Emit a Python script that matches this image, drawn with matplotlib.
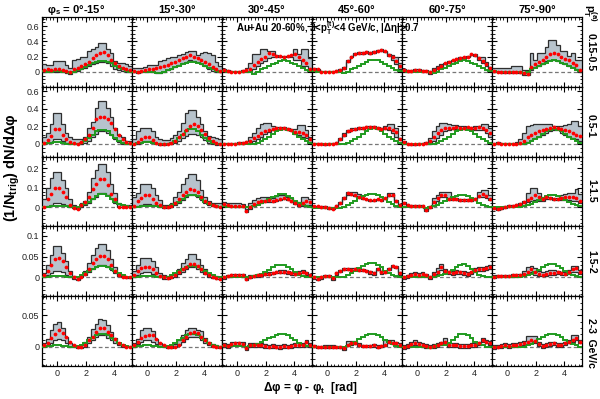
import numpy as np
import matplotlib
matplotlib.use("Agg")
import matplotlib.pyplot as plt
from matplotlib.ticker import MultipleLocator

plt.rcParams['font.family'] = ['Liberation Sans', 'DejaVu Sans']
plt.rcParams['mathtext.fontset'] = 'custom'
plt.rcParams['mathtext.rm'] = 'Liberation Sans'
plt.rcParams['mathtext.bf'] = 'Liberation Sans:bold'
plt.rcParams['mathtext.it'] = 'Liberation Sans:italic'

# ---------------- labels ----------------
col_titles = ['φ$_\\mathbf{s}$ = 0°-15°', '15°-30°', '30°-45°', '45°-60°', '60°-75°', '75°-90°']
row_labels = ['0.15-0.5', '0.5-1', '1-1.5', '1.5-2', '2-3  GeV/c']
ylims = [(-0.2, 0.72), (-0.15, 0.65), (-0.1, 0.26), (-0.045, 0.123), (-0.031, 0.081)]
yticks = [[0, 0.2, 0.4, 0.6], [0, 0.2, 0.4, 0.6], [0, 0.1, 0.2], [0, 0.05, 0.1], [0, 0.05]]
yminor = [0.05, 0.05, 0.02, 0.01, 0.01]
xticks = [0, 2, 4]

# ---------------- data: row 1 (0.15-0.5 GeV/c) ----------------
r1_red = [
 [0.02,0.03,0.02,0.04,0.03,0.02,0.01,0.00,0.03,0.05,0.07,0.10,0.13,0.18,0.22,0.25,0.26,0.22,0.15,0.11,0.08,0.05,0.03,0.02],
 [0.01,0.00,0.01,0.02,0.03,0.03,0.05,0.06,0.07,0.09,0.11,0.13,0.16,0.18,0.20,0.22,0.20,0.18,0.16,0.13,0.10,0.06,0.03,0.01],
 [0.02,0.01,0.00,0.00,0.00,0.01,0.02,0.04,0.09,0.13,0.17,0.20,0.25,0.23,0.21,0.21,0.20,0.21,0.22,0.23,0.20,0.16,0.12,0.04],
 [0.04,0.03,0.00,0.00,0.00,0.00,0.01,0.02,0.05,0.14,0.20,0.24,0.25,0.25,0.26,0.25,0.26,0.28,0.29,0.27,0.22,0.20,0.14,0.08],
 [0.02,0.01,0.01,0.02,0.02,0.01,0.01,0.00,0.02,0.05,0.08,0.11,0.13,0.15,0.17,0.18,0.19,0.20,0.23,0.22,0.18,0.14,0.10,0.05],
 [0.01,0.00,0.00,0.00,0.00,0.00,0.00,-0.01,-0.02,-0.03,0.06,0.10,0.13,0.15,0.20,0.24,0.25,0.23,0.20,0.17,0.15,0.12,0.09,0.02]]
r1_up = [
 [0.10,0.09,0.09,0.14,0.14,0.14,0.09,0.05,0.15,0.17,0.19,0.20,0.28,0.30,0.33,0.38,0.38,0.30,0.25,0.14,0.12,0.11,0.10,0.08],
 [0.05,0.05,0.05,0.06,0.09,0.09,0.09,0.14,0.16,0.18,0.20,0.20,0.22,0.24,0.26,0.28,0.27,0.22,0.25,0.26,0.25,0.22,0.13,0.08],
 [0.03,0.02,0.01,0.01,0.01,0.02,0.05,0.12,0.23,0.23,0.30,0.30,0.28,0.28,0.22,0.21,0.21,0.21,0.22,0.30,0.23,0.30,0.30,0.18],
 [0.05,0.04,0.01,0.01,0.01,0.01,0.02,0.03,0.06,0.15,0.21,0.25,0.26,0.26,0.27,0.26,0.27,0.29,0.30,0.28,0.23,0.22,0.20,0.12],
 [0.03,0.02,0.02,0.03,0.03,0.02,0.02,0.01,0.05,0.08,0.10,0.12,0.14,0.16,0.18,0.19,0.20,0.21,0.24,0.23,0.19,0.19,0.13,0.06],
 [0.05,0.05,0.05,0.05,0.05,0.07,0.07,0.07,0.02,0.02,0.25,0.16,0.25,0.25,0.33,0.42,0.42,0.35,0.28,0.28,0.21,0.25,0.16,0.16]]
r1_lo = [
 [0.00,0.00,-0.01,0.00,0.00,-0.01,-0.02,-0.03,0.00,0.01,0.03,0.05,0.07,0.10,0.11,0.13,0.13,0.12,0.07,0.04,0.02,0.01,0.00,0.00],
 [-0.01,-0.02,-0.01,0.00,0.00,0.00,-0.02,-0.02,0.00,0.02,0.04,0.06,0.09,0.11,0.13,0.15,0.14,0.13,0.10,0.07,0.04,0.01,-0.01,-0.01],
 [0.01,0.00,-0.01,-0.01,-0.01,0.00,0.00,0.01,0.03,0.07,0.12,0.14,0.18,0.20,0.20,0.20,0.19,0.20,0.20,0.16,0.15,0.08,0.08,0.02],
 [0.03,0.02,-0.01,-0.01,-0.01,-0.01,0.00,0.01,0.04,0.13,0.19,0.23,0.24,0.24,0.25,0.24,0.25,0.27,0.28,0.26,0.21,0.15,0.10,0.04],
 [0.01,0.00,0.00,0.01,0.01,0.00,0.00,-0.03,0.01,0.03,0.06,0.10,0.12,0.14,0.16,0.17,0.18,0.19,0.22,0.21,0.16,0.12,0.08,0.04],
 [-0.01,-0.01,-0.02,-0.02,-0.02,-0.02,-0.02,-0.02,-0.04,-0.04,0.02,0.06,0.08,0.10,0.14,0.16,0.15,0.14,0.12,0.10,0.08,0.06,0.04,0.00]]
r1_bg = [
 [0.01,0.00,0.00,0.01,0.01,0.00,-0.01,-0.02,0.00,0.02,0.04,0.06,0.09,0.11,0.13,0.14,0.14,0.13,0.11,0.08,0.05,0.03,0.01,0.00],
 [0.00,0.00,0.00,0.00,0.00,0.00,-0.02,-0.02,0.00,0.02,0.04,0.06,0.08,0.10,0.12,0.13,0.13,0.12,0.10,0.08,0.05,0.03,0.01,0.00],
 [0.01,0.00,0.00,0.00,0.00,0.00,0.00,-0.01,-0.03,0.00,0.03,0.05,0.08,0.10,0.12,0.14,0.15,0.14,0.12,0.10,0.07,0.05,0.02,0.01],
 [0.01,0.00,0.00,0.00,0.00,0.00,0.00,-0.01,-0.02,0.00,0.03,0.05,0.08,0.10,0.13,0.15,0.16,0.15,0.13,0.10,0.07,0.05,0.02,0.01],
 [0.01,0.00,0.00,0.00,0.00,0.00,0.00,-0.01,-0.02,0.00,0.03,0.05,0.08,0.10,0.12,0.14,0.15,0.14,0.12,0.10,0.07,0.05,0.02,0.01],
 [0.01,0.00,0.00,0.00,0.00,0.00,0.00,-0.01,-0.02,0.00,0.03,0.05,0.08,0.10,0.12,0.14,0.15,0.14,0.12,0.10,0.07,0.05,0.02,0.01]]

# ---------------- data: row 2 (0.5-1 GeV/c) ----------------
r2_red = [
 [0.01,0.04,0.09,0.17,0.17,0.10,0.05,0.02,0.01,0.00,0.02,0.05,0.10,0.18,0.28,0.30,0.30,0.28,0.24,0.17,0.10,0.05,0.02,0.01],
 [0.00,0.02,0.05,0.07,0.07,0.04,0.01,-0.01,-0.01,0.00,0.01,0.03,0.07,0.11,0.16,0.20,0.22,0.20,0.16,0.11,0.06,0.03,0.01,0.00],
 [0.00,0.00,0.00,0.00,0.01,0.01,0.02,0.03,0.06,0.09,0.12,0.14,0.16,0.17,0.18,0.18,0.18,0.17,0.15,0.13,0.13,0.12,0.10,0.05],
 [0.00,0.00,0.00,-0.01,0.00,0.00,0.01,0.05,0.10,0.14,0.16,0.17,0.18,0.18,0.19,0.19,0.19,0.18,0.17,0.18,0.18,0.16,0.13,0.05],
 [0.02,0.00,-0.01,-0.01,0.00,0.00,0.01,0.03,0.07,0.12,0.16,0.18,0.18,0.18,0.19,0.18,0.18,0.19,0.18,0.18,0.19,0.18,0.16,0.12],
 [0.00,0.01,0.00,0.00,0.00,0.00,0.00,0.01,0.03,0.08,0.10,0.12,0.14,0.16,0.17,0.18,0.19,0.18,0.17,0.15,0.14,0.12,0.10,0.09]]
r2_up = [
 [0.08,0.12,0.22,0.35,0.35,0.22,0.12,0.07,0.05,0.05,0.05,0.08,0.18,0.25,0.41,0.49,0.49,0.41,0.30,0.18,0.10,0.07,0.03,0.03],
 [0.05,0.14,0.18,0.18,0.18,0.14,0.08,0.05,0.04,0.04,0.06,0.10,0.14,0.24,0.35,0.39,0.39,0.30,0.22,0.14,0.09,0.07,0.06,0.05],
 [0.01,0.01,0.01,0.01,0.02,0.02,0.03,0.07,0.12,0.18,0.22,0.24,0.24,0.20,0.19,0.19,0.19,0.18,0.17,0.17,0.21,0.21,0.15,0.07],
 [0.01,0.01,0.01,0.00,0.01,0.01,0.02,0.06,0.12,0.16,0.18,0.18,0.19,0.19,0.20,0.20,0.20,0.19,0.18,0.20,0.22,0.22,0.18,0.06],
 [0.03,0.01,0.00,0.00,0.01,0.01,0.02,0.06,0.14,0.20,0.24,0.24,0.23,0.21,0.21,0.20,0.20,0.19,0.19,0.20,0.20,0.22,0.22,0.18],
 [0.01,0.02,0.01,0.01,0.01,0.01,0.02,0.05,0.12,0.20,0.21,0.22,0.22,0.22,0.22,0.22,0.20,0.20,0.20,0.21,0.22,0.26,0.26,0.20]]
r2_lo = [
 [0.00,0.01,0.02,0.05,0.05,0.03,0.01,0.00,-0.01,-0.01,0.00,0.01,0.03,0.07,0.11,0.14,0.14,0.12,0.10,0.05,0.02,0.00,-0.01,-0.01],
 [-0.01,0.00,0.02,0.03,0.03,0.01,-0.01,-0.02,-0.02,-0.01,0.00,0.01,0.03,0.06,0.09,0.11,0.11,0.10,0.07,0.04,0.01,-0.01,-0.02,-0.01],
 [-0.01,-0.01,-0.01,-0.01,0.00,0.00,0.01,0.01,0.03,0.05,0.08,0.11,0.13,0.15,0.16,0.17,0.17,0.16,0.14,0.11,0.10,0.08,0.06,0.02],
 [-0.01,-0.01,-0.01,-0.02,-0.01,-0.01,0.00,0.04,0.09,0.13,0.15,0.16,0.17,0.17,0.18,0.18,0.18,0.17,0.16,0.17,0.16,0.12,0.08,0.04],
 [0.01,-0.01,-0.02,-0.02,-0.01,-0.01,0.00,0.00,0.03,0.06,0.10,0.14,0.16,0.17,0.17,0.17,0.17,0.17,0.17,0.16,0.16,0.15,0.12,0.08],
 [-0.01,0.00,-0.01,-0.01,-0.01,-0.01,-0.01,-0.01,0.00,0.02,0.04,0.06,0.08,0.10,0.12,0.14,0.16,0.15,0.12,0.10,0.08,0.06,0.05,0.03]]
r2_bg = [
 [0.00,0.01,0.01,0.02,0.02,0.01,0.00,-0.01,-0.01,0.00,0.01,0.03,0.06,0.10,0.14,0.16,0.16,0.14,0.10,0.06,0.03,0.01,0.00,0.00],
 [0.00,0.01,0.01,0.02,0.02,0.01,0.00,-0.01,-0.01,0.00,0.01,0.03,0.06,0.10,0.14,0.17,0.17,0.14,0.10,0.06,0.03,0.01,0.00,0.00],
 [0.00,0.00,0.00,-0.01,-0.01,-0.01,-0.01,-0.01,0.00,0.01,0.03,0.05,0.08,0.11,0.14,0.16,0.17,0.16,0.14,0.11,0.08,0.05,0.03,0.01],
 [-0.01,-0.01,-0.01,-0.01,-0.01,-0.01,-0.01,-0.01,0.00,0.01,0.03,0.05,0.08,0.11,0.14,0.17,0.18,0.17,0.14,0.11,0.08,0.05,0.03,0.01],
 [0.00,0.00,0.00,0.00,0.00,0.00,0.00,-0.01,0.00,0.01,0.03,0.05,0.08,0.11,0.14,0.16,0.17,0.16,0.14,0.11,0.08,0.05,0.03,0.01],
 [0.00,0.00,0.00,0.00,0.00,0.00,0.00,0.00,0.00,0.01,0.03,0.05,0.08,0.11,0.14,0.16,0.17,0.16,0.14,0.11,0.08,0.05,0.03,0.01]]

# ---------------- data: row 3 (1-1.5 GeV/c) ----------------
r3_red = [
 [0.00,0.04,0.065,0.10,0.10,0.08,0.05,0.01,-0.005,-0.008,0.012,0.025,0.05,0.095,0.12,0.145,0.145,0.115,0.065,0.04,0.00,0.00,0.00,0.00],
 [0.005,0.03,0.045,0.06,0.06,0.04,0.02,0.01,0.00,0.00,0.005,0.02,0.04,0.06,0.08,0.095,0.09,0.075,0.05,0.03,0.02,0.01,0.005,0.00],
 [0.015,0.01,0.005,0.003,0.003,0.005,-0.018,0.00,0.015,0.025,0.03,0.033,0.035,0.03,0.035,0.04,0.045,0.04,0.03,0.02,0.012,0.02,0.03,0.025],
 [0.003,0.003,0.00,0.00,-0.005,-0.008,0.005,0.02,0.045,0.07,0.065,0.062,0.05,0.045,0.04,0.035,0.035,0.04,0.037,0.045,0.062,0.062,0.03,0.012],
 [0.02,0.01,0.005,0.003,0.003,0.003,-0.017,0.00,0.025,0.045,0.062,0.062,0.04,0.04,0.04,0.037,0.037,0.035,0.035,0.04,0.055,0.065,0.055,0.04],
 [-0.005,-0.01,-0.005,0.00,0.003,0.005,0.01,0.015,0.025,0.035,0.045,0.062,0.05,0.04,0.05,0.045,0.042,0.04,0.045,0.052,0.05,0.052,0.045,0.03]]
r3_up = [
 [0.04,0.10,0.15,0.18,0.18,0.14,0.10,0.04,0.01,0.00,0.02,0.03,0.08,0.15,0.19,0.22,0.22,0.18,0.12,0.07,0.02,0.01,0.01,0.01],
 [0.05,0.07,0.12,0.12,0.12,0.10,0.06,0.035,0.01,0.01,0.02,0.05,0.08,0.12,0.15,0.17,0.17,0.14,0.09,0.05,0.03,0.02,0.02,0.02],
 [0.025,0.023,0.023,0.023,0.02,0.015,-0.01,0.02,0.037,0.045,0.05,0.05,0.05,0.045,0.055,0.062,0.062,0.05,0.045,0.03,0.025,0.053,0.053,0.04],
 [0.006,0.006,0.003,0.003,-0.002,-0.005,0.008,0.024,0.05,0.078,0.078,0.078,0.066,0.048,0.043,0.038,0.038,0.043,0.04,0.048,0.07,0.07,0.035,0.016],
 [0.025,0.015,0.01,0.008,0.008,0.008,-0.012,0.005,0.045,0.06,0.078,0.078,0.078,0.045,0.045,0.042,0.042,0.04,0.04,0.045,0.075,0.087,0.087,0.06],
 [0.00,-0.005,0.00,0.005,0.008,0.01,0.015,0.02,0.03,0.07,0.10,0.10,0.07,0.05,0.055,0.05,0.047,0.045,0.06,0.065,0.07,0.07,0.095,0.065]]
r3_lo = [
 [0.00,0.005,0.01,0.02,0.02,0.015,0.005,0.00,-0.005,-0.01,0.00,0.01,0.02,0.04,0.05,0.07,0.07,0.06,0.04,0.02,0.00,0.00,0.00,0.00],
 [0.00,0.005,0.01,0.015,0.015,0.01,0.003,0.00,-0.003,-0.003,0.00,0.01,0.02,0.035,0.05,0.06,0.06,0.05,0.035,0.02,0.01,0.003,0.00,0.00],
 [0.01,0.005,0.00,0.00,0.00,0.00,-0.025,-0.01,0.005,0.015,0.02,0.025,0.025,0.025,0.03,0.035,0.04,0.035,0.025,0.015,0.005,0.005,0.01,0.01],
 [0.00,0.00,-0.003,-0.003,-0.008,-0.011,0.002,0.016,0.04,0.062,0.06,0.057,0.046,0.041,0.036,0.031,0.031,0.036,0.033,0.041,0.056,0.056,0.025,0.008],
 [0.015,0.005,0.00,-0.002,-0.002,-0.002,-0.022,-0.005,0.02,0.03,0.05,0.05,0.035,0.035,0.035,0.032,0.032,0.03,0.03,0.035,0.05,0.05,0.045,0.035],
 [-0.01,-0.015,-0.01,-0.005,-0.002,0.00,0.005,0.01,0.02,0.025,0.03,0.035,0.03,0.03,0.04,0.04,0.037,0.035,0.035,0.035,0.035,0.03,0.03,0.02]]
r3_bg = [
 [0.00,0.002,0.005,0.007,0.007,0.005,0.003,0.00,0.00,0.002,0.008,0.015,0.025,0.04,0.055,0.065,0.065,0.055,0.04,0.025,0.015,0.008,0.003,0.00],
 [0.00,0.002,0.005,0.007,0.007,0.005,0.003,0.00,0.00,0.002,0.008,0.015,0.025,0.04,0.055,0.062,0.062,0.055,0.04,0.025,0.015,0.008,0.003,0.00],
 [0.003,0.002,0.00,0.00,0.00,0.00,-0.002,0.00,0.005,0.012,0.02,0.03,0.04,0.05,0.058,0.065,0.065,0.058,0.045,0.03,0.02,0.012,0.005,0.002],
 [-0.005,-0.005,-0.005,-0.005,-0.005,-0.005,-0.005,-0.005,0.00,0.01,0.02,0.03,0.045,0.055,0.06,0.065,0.065,0.06,0.05,0.04,0.025,0.015,0.005,0.00],
 [0.00,0.00,0.00,0.00,0.00,0.00,-0.003,0.00,0.005,0.01,0.02,0.03,0.04,0.05,0.058,0.064,0.064,0.058,0.048,0.035,0.022,0.012,0.005,0.002],
 [0.00,0.00,0.00,0.00,0.00,0.00,0.00,0.00,0.003,0.008,0.015,0.025,0.035,0.045,0.055,0.062,0.062,0.055,0.045,0.035,0.025,0.015,0.008,0.003]]

# ---------------- data: row 4 (1.5-2 GeV/c) ----------------
r4_red = [
 [0.005,0.015,0.03,0.045,0.048,0.04,0.025,0.01,0.00,-0.003,0.002,0.008,0.02,0.035,0.045,0.052,0.052,0.045,0.03,0.015,0.005,0.00,0.00,0.00],
 [0.005,0.015,0.022,0.025,0.025,0.02,0.01,0.003,0.00,-0.002,0.00,0.005,0.012,0.02,0.026,0.032,0.032,0.028,0.02,0.01,0.005,0.00,-0.002,-0.003],
 [0.00,0.003,0.005,0.006,0.006,0.005,-0.003,0.002,0.004,0.005,0.006,0.008,0.009,0.011,0.013,0.014,0.014,0.012,0.01,0.008,0.011,0.013,0.01,0.006],
 [0.00,-0.003,0.00,0.003,0.004,-0.002,0.01,0.015,0.02,0.02,0.019,0.02,0.019,0.018,0.015,0.012,0.01,0.02,0.012,0.013,0.02,0.027,0.025,0.01],
 [0.00,0.003,0.007,0.008,0.006,0.008,0.005,0.00,0.008,0.012,0.024,0.016,0.012,0.011,0.013,0.012,0.011,0.008,0.012,0.018,0.02,0.02,0.022,0.024],
 [0.002,0.004,0.004,0.003,0.003,0.005,0.005,0.006,0.008,0.014,0.02,0.012,0.008,0.006,0.008,0.01,0.011,0.012,0.01,0.008,0.012,0.02,0.022,0.013]]
r4_up = [
 [0.01,0.03,0.055,0.076,0.076,0.06,0.04,0.015,0.003,0.00,0.005,0.015,0.035,0.055,0.07,0.08,0.08,0.065,0.045,0.025,0.01,0.003,0.002,0.002],
 [0.015,0.03,0.048,0.048,0.048,0.04,0.025,0.01,0.005,0.003,0.005,0.01,0.02,0.035,0.045,0.056,0.056,0.045,0.03,0.02,0.01,0.005,0.003,0.002],
 [0.003,0.006,0.008,0.009,0.009,0.008,0.00,0.005,0.007,0.008,0.009,0.011,0.012,0.014,0.016,0.017,0.017,0.015,0.013,0.011,0.016,0.017,0.014,0.009],
 [0.003,0.00,0.003,0.006,0.007,0.001,0.013,0.018,0.023,0.023,0.022,0.023,0.022,0.021,0.018,0.015,0.013,0.023,0.015,0.016,0.023,0.03,0.028,0.013],
 [0.004,0.007,0.011,0.012,0.01,0.012,0.009,0.004,0.012,0.022,0.032,0.02,0.016,0.015,0.017,0.016,0.015,0.012,0.016,0.022,0.024,0.024,0.027,0.03],
 [0.005,0.007,0.007,0.006,0.006,0.008,0.008,0.009,0.015,0.024,0.028,0.022,0.015,0.013,0.015,0.017,0.017,0.016,0.014,0.012,0.018,0.027,0.028,0.018]]
r4_lo = [
 [0.00,0.005,0.01,0.015,0.015,0.012,0.005,0.00,-0.003,-0.005,0.00,0.005,0.012,0.02,0.025,0.03,0.03,0.025,0.018,0.01,0.003,0.00,-0.002,-0.002],
 [0.00,0.005,0.01,0.012,0.012,0.008,0.003,0.00,-0.003,-0.004,-0.002,0.002,0.008,0.014,0.02,0.024,0.024,0.02,0.014,0.008,0.002,-0.002,-0.004,-0.004],
 [-0.003,0.00,0.002,0.003,0.003,0.002,-0.006,-0.001,0.001,0.002,0.003,0.005,0.006,0.008,0.01,0.011,0.011,0.009,0.007,0.005,0.008,0.01,0.007,0.003],
 [-0.003,-0.006,-0.003,0.00,0.001,-0.005,0.007,0.012,0.017,0.017,0.016,0.017,0.016,0.015,0.012,0.009,0.007,0.017,0.009,0.01,0.017,0.024,0.022,0.007],
 [-0.004,-0.001,0.003,0.004,0.002,0.004,0.001,-0.004,0.004,0.008,0.018,0.012,0.008,0.007,0.009,0.008,0.007,0.004,0.008,0.014,0.016,0.016,0.018,0.02],
 [-0.001,0.001,0.001,0.00,0.00,0.002,0.002,0.003,0.004,0.008,0.012,0.006,0.004,0.003,0.004,0.006,0.007,0.008,0.006,0.005,0.008,0.012,0.014,0.008]]
r4_bg = [
 [0.00,0.002,0.003,0.004,0.004,0.003,0.002,0.00,0.00,0.002,0.005,0.01,0.015,0.02,0.025,0.028,0.028,0.025,0.02,0.015,0.01,0.005,0.002,0.00],
 [0.00,0.002,0.003,0.004,0.004,0.003,0.002,0.00,0.00,0.002,0.005,0.01,0.015,0.02,0.025,0.028,0.028,0.025,0.02,0.015,0.01,0.005,0.002,0.00],
 [0.002,0.002,0.002,0.002,0.002,0.002,0.00,0.002,0.003,0.005,0.008,0.012,0.018,0.024,0.03,0.03,0.03,0.026,0.02,0.012,0.006,0.003,0.002,0.002],
 [0.002,0.002,0.002,0.002,0.002,0.002,0.00,0.00,0.002,0.005,0.01,0.016,0.022,0.028,0.032,0.035,0.034,0.03,0.024,0.016,0.01,0.005,0.003,0.002],
 [0.002,0.002,0.002,0.002,0.002,0.002,0.00,0.00,0.002,0.004,0.006,0.008,0.012,0.018,0.025,0.03,0.032,0.028,0.02,0.012,0.006,0.003,0.002,0.002],
 [0.002,0.002,0.002,0.002,0.002,0.002,0.002,0.002,0.003,0.005,0.008,0.012,0.018,0.024,0.029,0.032,0.032,0.028,0.022,0.015,0.009,0.005,0.003,0.002]]

# ---------------- data: row 5 (2-3 GeV/c) ----------------
r5_red = [
 [0.003,0.006,0.014,0.02,0.026,0.022,0.015,0.008,0.003,0.00,-0.001,0.003,0.01,0.016,0.024,0.03,0.03,0.024,0.018,0.012,0.006,0.002,0.00,0.00],
 [0.002,0.008,0.013,0.017,0.019,0.018,0.012,0.006,0.003,0.00,-0.001,0.00,0.003,0.01,0.016,0.022,0.024,0.022,0.016,0.01,0.005,0.001,0.00,-0.001],
 [0.002,0.001,0.004,0.005,0.005,0.004,-0.003,0.002,0.003,0.003,0.002,0.001,0.00,0.001,0.00,-0.001,0.001,0.00,0.001,0.002,0.003,0.002,0.008,0.003],
 [0.001,-0.001,-0.001,0.00,0.00,0.00,-0.001,-0.001,-0.003,0.003,0.005,0.006,0.003,0.001,0.001,0.001,0.002,0.00,0.001,0.003,0.008,0.006,0.005,0.003],
 [-0.001,0.001,0.004,0.006,0.004,0.002,0.001,0.00,0.001,0.003,0.005,0.008,0.002,0.003,0.002,0.001,0.001,0.001,0.002,0.003,0.005,0.01,0.008,0.006],
 [-0.001,0.00,0.001,0.002,0.001,0.002,0.003,0.004,0.005,0.007,0.011,0.009,0.004,0.001,0.002,0.004,0.005,0.002,0.003,0.005,0.008,0.011,0.014,0.008]]
r5_up = [
 [0.005,0.012,0.027,0.037,0.039,0.03,0.016,0.006,0.002,0.001,0.002,0.008,0.016,0.028,0.036,0.045,0.042,0.035,0.024,0.014,0.006,0.003,0.001,0.001],
 [0.006,0.012,0.027,0.03,0.03,0.025,0.012,0.006,0.003,0.001,0.001,0.004,0.01,0.019,0.027,0.03,0.03,0.027,0.025,0.014,0.008,0.004,0.002,0.001],
 [0.005,0.004,0.008,0.008,0.008,0.008,0.00,0.005,0.006,0.006,0.005,0.004,0.003,0.004,0.003,0.002,0.004,0.003,0.004,0.005,0.006,0.005,0.011,0.006],
 [0.003,0.001,0.001,0.002,0.002,0.002,0.001,0.001,-0.001,0.009,0.009,0.009,0.005,0.003,0.003,0.003,0.004,0.002,0.003,0.01,0.01,0.01,0.007,0.005],
 [0.002,0.004,0.007,0.01,0.007,0.005,0.004,0.003,0.004,0.006,0.008,0.013,0.005,0.006,0.005,0.004,0.004,0.004,0.005,0.006,0.008,0.013,0.011,0.009],
 [0.002,0.003,0.004,0.005,0.004,0.005,0.006,0.007,0.009,0.017,0.017,0.017,0.007,0.004,0.005,0.007,0.008,0.005,0.006,0.008,0.011,0.018,0.018,0.011]]
r5_lo = [
 [0.001,0.003,0.006,0.01,0.012,0.01,0.005,0.00,-0.001,-0.002,-0.002,0.00,0.005,0.01,0.015,0.018,0.018,0.014,0.01,0.006,0.002,0.00,-0.001,-0.001],
 [0.00,0.004,0.008,0.01,0.01,0.008,0.004,0.001,-0.001,-0.002,-0.002,-0.001,0.002,0.008,0.012,0.016,0.016,0.015,0.01,0.006,0.002,0.00,-0.001,-0.002],
 [-0.001,-0.002,0.001,0.002,0.002,0.001,-0.006,-0.001,0.00,0.00,-0.001,-0.002,-0.003,-0.002,-0.003,-0.004,-0.002,-0.003,-0.002,-0.001,0.00,-0.001,0.005,0.00],
 [-0.001,-0.003,-0.003,-0.002,-0.002,-0.002,-0.003,-0.003,-0.005,0.001,0.003,0.004,0.001,-0.001,-0.001,-0.001,0.00,-0.002,-0.001,0.001,0.006,0.004,0.003,0.001],
 [-0.004,-0.002,0.001,0.003,0.001,-0.001,-0.002,-0.003,-0.002,0.00,0.002,0.005,-0.001,0.00,-0.001,-0.002,-0.002,-0.002,-0.001,0.00,0.002,0.007,0.005,0.003],
 [-0.004,-0.003,-0.002,-0.001,-0.002,-0.001,0.00,0.001,0.002,0.004,0.006,0.006,0.001,-0.002,-0.001,0.001,0.002,-0.001,0.00,0.002,0.005,0.008,0.011,0.005]]
r5_bg = [
 [0.00,0.001,0.001,0.002,0.002,0.001,0.001,0.00,0.00,0.001,0.003,0.006,0.01,0.014,0.018,0.02,0.02,0.018,0.014,0.01,0.006,0.003,0.001,0.00],
 [0.00,0.001,0.001,0.002,0.002,0.001,0.001,0.00,0.00,0.001,0.003,0.006,0.01,0.014,0.018,0.02,0.02,0.018,0.014,0.01,0.006,0.003,0.001,0.00],
 [0.001,0.001,0.001,0.001,0.001,0.001,0.00,0.001,0.002,0.004,0.007,0.01,0.013,0.016,0.019,0.02,0.02,0.018,0.014,0.01,0.006,0.003,0.001,0.001],
 [0.00,0.00,0.00,0.00,0.00,0.00,0.00,0.00,0.00,0.001,0.004,0.008,0.012,0.015,0.019,0.021,0.021,0.019,0.015,0.011,0.007,0.004,0.001,0.00],
 [0.00,0.00,0.00,0.00,0.00,0.00,0.00,-0.003,0.00,0.002,0.003,0.003,0.006,0.01,0.016,0.021,0.021,0.018,0.013,0.008,0.004,0.002,0.00,0.00],
 [0.00,0.00,0.00,0.00,0.00,0.00,0.00,0.00,0.00,0.002,0.004,0.008,0.012,0.015,0.019,0.021,0.021,0.019,0.015,0.011,0.007,0.004,0.002,0.00]]

reds = [r1_red, r2_red, r3_red, r4_red, r5_red]
ups = [r1_up, r2_up, r3_up, r4_up, r5_up]
los = [r1_lo, r2_lo, r3_lo, r4_lo, r5_lo]
bgs = [r1_bg, r2_bg, r3_bg, r4_bg, r5_bg]

edges = np.linspace(-np.pi / 3, 5 * np.pi / 3, 25)
centers = 0.5 * (edges[:-1] + edges[1:])

fig = plt.figure(figsize=(6.0, 3.99), dpi=100)
gs = fig.add_gridspec(5, 6, left=0.07, right=0.97, top=0.957, bottom=0.083,
                      hspace=0, wspace=0)

band_color = '#b7c3cc'
edge_color = '#2e2e2e'
green = '#1f9a1f'

for r in range(5):
    for c in range(6):
        ax = fig.add_subplot(gs[r, c])
        up = np.array(ups[r][c])
        lo = np.array(los[r][c])
        ax.axhline(0, color='#777777', lw=0.9, ls=(0, (3, 2)), zorder=1)
        ax.stairs(up, edges, baseline=lo, fill=True, color=band_color, lw=0, zorder=2)
        ax.stairs(up, edges, baseline=None, color=edge_color, lw=0.9, zorder=3)
        ax.stairs(lo, edges, baseline=None, color=edge_color, lw=0.9, zorder=3)
        ax.stairs(bgs[r][c], edges, baseline=None, color=green, lw=1.4, zorder=4)
        ax.plot(centers, reds[r][c], 'o', color='red', ms=2.7, mew=0, zorder=5)
        ax.set_xlim(edges[0], edges[-1])
        ax.set_ylim(*ylims[r])
        ax.set_xticks(xticks)
        ax.xaxis.set_minor_locator(MultipleLocator(0.25))
        ax.set_yticks(yticks[r])
        ax.yaxis.set_minor_locator(MultipleLocator(yminor[r]))
        ax.tick_params(which='both', direction='in', top=True, right=True,
                       labelsize=6.5, labelcolor='#222222', pad=2)
        ax.tick_params(which='major', length=3.5, width=0.8)
        ax.tick_params(which='minor', length=1.8, width=0.6)
        for s in ax.spines.values():
            s.set_linewidth(0.9)
        if c == 0:
            ax.set_yticklabels([f'{v:g}' for v in yticks[r]])
        else:
            ax.set_yticklabels([])
        if r == 4:
            ax.set_xticklabels([str(v) for v in xticks])
        else:
            ax.set_xticklabels([])

# column titles
col_x = [76, 177, 267, 357, 447, 537]
for c in range(6):
    fig.text(col_x[c] / 600, 1 - 10 / 399, col_titles[c], ha='center', va='center',
             fontsize=8, fontweight='bold')

# annotation inside top row
fig.text(328 / 600, 1 - 28 / 399,
         'Au+Au 20-60%, 3<p$_\\mathbf{T}^\\mathbf{(t)}$<4 GeV/c, |Δη|>0.7',
         ha='center', va='center', fontsize=7, fontweight='bold')

# right-hand row labels
row_y = [52, 126, 191, 262]
for r in range(4):
    fig.text(591 / 600, 1 - row_y[r] / 399, row_labels[r], rotation=270,
             ha='center', va='center', fontsize=7.5, fontweight='bold')
fig.text(591 / 600, 1 - 318 / 399, row_labels[4], rotation=270,
         ha='center', va='top', fontsize=7.5, fontweight='bold')
fig.text(590 / 600, 1 - 4 / 399, 'p$_\\mathbf{T}^\\mathbf{(a)}$', rotation=270,
         ha='center', va='top', fontsize=8, fontweight='bold')

# axis labels
fig.text(12 / 600, 1 - 168 / 399, '(1/N$_\\mathbf{trig}$) dN/dΔφ', rotation=90,
         ha='center', va='center', fontsize=10.5, fontweight='bold')
fig.text(310 / 600, 1 - 388 / 399, 'Δφ = φ - φ$_\\mathbf{t}$  [rad]',
         ha='center', va='center', fontsize=8.5, fontweight='bold')

fig.savefig('out.png', dpi=100)
